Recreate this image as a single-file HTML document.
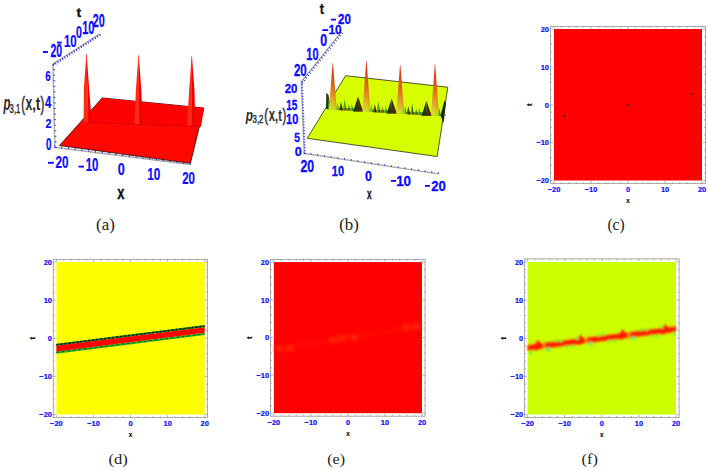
<!DOCTYPE html>
<html><head><meta charset="utf-8">
<style>
html,body{margin:0;padding:0;background:#fff;}
svg{display:block;}
</style></head><body>
<svg width="708" height="470" viewBox="0 0 708 470">
<rect width="708" height="470" fill="#fff"/>
<rect x="554" y="29" width="148.00" height="151.50" fill="#ff0000"/>
<circle cx="564.5" cy="115.8" r="1.05" fill="#3a1a1a"/><circle cx="628.1" cy="105.1" r="1.05" fill="#3a1a1a"/><circle cx="691.6" cy="94.1" r="1.05" fill="#3a1a1a"/>
<rect x="550.4" y="26.4" width="155.10" height="157.00" fill="none" stroke="#a0a0a0" stroke-width="0.9"/>
<path d="M554.00,183.4v-2.4M554.00,26.4v2.4M550.4,180.50h2.4M705.5,180.50h-2.4M561.40,183.4v-1.4M561.40,26.4v1.4M550.4,172.93h1.4M705.5,172.93h-1.4M568.80,183.4v-1.4M568.80,26.4v1.4M550.4,165.35h1.4M705.5,165.35h-1.4M576.20,183.4v-1.4M576.20,26.4v1.4M550.4,157.78h1.4M705.5,157.78h-1.4M583.60,183.4v-1.4M583.60,26.4v1.4M550.4,150.20h1.4M705.5,150.20h-1.4M591.00,183.4v-2.4M591.00,26.4v2.4M550.4,142.62h2.4M705.5,142.62h-2.4M598.40,183.4v-1.4M598.40,26.4v1.4M550.4,135.05h1.4M705.5,135.05h-1.4M605.80,183.4v-1.4M605.80,26.4v1.4M550.4,127.47h1.4M705.5,127.47h-1.4M613.20,183.4v-1.4M613.20,26.4v1.4M550.4,119.90h1.4M705.5,119.90h-1.4M620.60,183.4v-1.4M620.60,26.4v1.4M550.4,112.33h1.4M705.5,112.33h-1.4M628.00,183.4v-2.4M628.00,26.4v2.4M550.4,104.75h2.4M705.5,104.75h-2.4M635.40,183.4v-1.4M635.40,26.4v1.4M550.4,97.17h1.4M705.5,97.17h-1.4M642.80,183.4v-1.4M642.80,26.4v1.4M550.4,89.60h1.4M705.5,89.60h-1.4M650.20,183.4v-1.4M650.20,26.4v1.4M550.4,82.02h1.4M705.5,82.02h-1.4M657.60,183.4v-1.4M657.60,26.4v1.4M550.4,74.45h1.4M705.5,74.45h-1.4M665.00,183.4v-2.4M665.00,26.4v2.4M550.4,66.88h2.4M705.5,66.88h-2.4M672.40,183.4v-1.4M672.40,26.4v1.4M550.4,59.30h1.4M705.5,59.30h-1.4M679.80,183.4v-1.4M679.80,26.4v1.4M550.4,51.72h1.4M705.5,51.72h-1.4M687.20,183.4v-1.4M687.20,26.4v1.4M550.4,44.15h1.4M705.5,44.15h-1.4M694.60,183.4v-1.4M694.60,26.4v1.4M550.4,36.58h1.4M705.5,36.58h-1.4M702.00,183.4v-2.4M702.00,26.4v2.4M550.4,29.00h2.4M705.5,29.00h-2.4" stroke="#808080" stroke-width="0.6" fill="none"/>
<text transform="translate(554.00,191.70) scale(0.930,0.980)" font-size="8.0" font-weight="bold" font-style="normal" text-anchor="middle" fill="#0c0cff" font-family='"Liberation Sans", sans-serif' stroke="#0c0cff" stroke-width="0.2">−20</text>
<text transform="translate(549.00,183.25) scale(0.930,0.980)" font-size="8.0" font-weight="bold" font-style="normal" text-anchor="end" fill="#0c0cff" font-family='"Liberation Sans", sans-serif' stroke="#0c0cff" stroke-width="0.2">−20</text>
<text transform="translate(591.00,191.70) scale(0.930,0.980)" font-size="8.0" font-weight="bold" font-style="normal" text-anchor="middle" fill="#0c0cff" font-family='"Liberation Sans", sans-serif' stroke="#0c0cff" stroke-width="0.2">−10</text>
<text transform="translate(549.00,145.38) scale(0.930,0.980)" font-size="8.0" font-weight="bold" font-style="normal" text-anchor="end" fill="#0c0cff" font-family='"Liberation Sans", sans-serif' stroke="#0c0cff" stroke-width="0.2">−10</text>
<text transform="translate(628.00,191.70) scale(0.930,0.980)" font-size="8.0" font-weight="bold" font-style="normal" text-anchor="middle" fill="#0c0cff" font-family='"Liberation Sans", sans-serif' stroke="#0c0cff" stroke-width="0.2">0</text>
<text transform="translate(549.00,107.50) scale(0.930,0.980)" font-size="8.0" font-weight="bold" font-style="normal" text-anchor="end" fill="#0c0cff" font-family='"Liberation Sans", sans-serif' stroke="#0c0cff" stroke-width="0.2">0</text>
<text transform="translate(665.00,191.70) scale(0.930,0.980)" font-size="8.0" font-weight="bold" font-style="normal" text-anchor="middle" fill="#0c0cff" font-family='"Liberation Sans", sans-serif' stroke="#0c0cff" stroke-width="0.2">10</text>
<text transform="translate(549.00,69.62) scale(0.930,0.980)" font-size="8.0" font-weight="bold" font-style="normal" text-anchor="end" fill="#0c0cff" font-family='"Liberation Sans", sans-serif' stroke="#0c0cff" stroke-width="0.2">10</text>
<text transform="translate(702.00,191.70) scale(0.930,0.980)" font-size="8.0" font-weight="bold" font-style="normal" text-anchor="middle" fill="#0c0cff" font-family='"Liberation Sans", sans-serif' stroke="#0c0cff" stroke-width="0.2">20</text>
<text transform="translate(549.00,31.75) scale(0.930,0.980)" font-size="8.0" font-weight="bold" font-style="normal" text-anchor="end" fill="#0c0cff" font-family='"Liberation Sans", sans-serif' stroke="#0c0cff" stroke-width="0.2">20</text>
<text transform="translate(626.26,202.90) scale(0.314,0.360)" font-size="20.0" font-weight="bold" font-style="normal" fill="#111" font-family='"Liberation Sans", sans-serif'  stroke="#111" stroke-width="0.594">x</text>
<g transform="translate(529.10,104.75) rotate(-90)"><text transform="translate(-1.29,2.53) scale(0.389,0.393)" font-size="20.0" font-weight="bold" font-style="normal" fill="#111" font-family='"Liberation Sans", sans-serif'  stroke="#111" stroke-width="0.511">t</text></g>
<rect x="56.4" y="262.1" width="148.30" height="152.40" fill="#ffff00"/>
<polygon points="56.4,343.70 204.7,325.10 204.7,327.30 56.4,345.90" fill="#1f7a1f"/>
<polygon points="56.4,351.30 204.7,332.70 204.7,335.10 56.4,353.70" fill="#2aac2a"/>
<polygon points="56.4,345.80 204.7,327.20 204.7,332.80 56.4,351.40" fill="#ff0000"/>
<line x1="56.4" y1="344.70000000000005" x2="204.7" y2="326.1" stroke="#08201a" stroke-width="1.5" stroke-dasharray="2.2 1.8"/>
<line x1="56.4" y1="352.40000000000003" x2="204.7" y2="333.8" stroke="#1a5a20" stroke-width="1.0" stroke-dasharray="2.5 3.0"/>
<rect x="53.3" y="259.4" width="154.10" height="158.20" fill="none" stroke="#a0a0a0" stroke-width="0.9"/>
<path d="M56.40,417.6v-2.4M56.40,259.4v2.4M53.3,414.50h2.4M207.4,414.50h-2.4M63.81,417.6v-1.4M63.81,259.4v1.4M53.3,406.88h1.4M207.4,406.88h-1.4M71.23,417.6v-1.4M71.23,259.4v1.4M53.3,399.26h1.4M207.4,399.26h-1.4M78.64,417.6v-1.4M78.64,259.4v1.4M53.3,391.64h1.4M207.4,391.64h-1.4M86.06,417.6v-1.4M86.06,259.4v1.4M53.3,384.02h1.4M207.4,384.02h-1.4M93.47,417.6v-2.4M93.47,259.4v2.4M53.3,376.40h2.4M207.4,376.40h-2.4M100.89,417.6v-1.4M100.89,259.4v1.4M53.3,368.78h1.4M207.4,368.78h-1.4M108.30,417.6v-1.4M108.30,259.4v1.4M53.3,361.16h1.4M207.4,361.16h-1.4M115.72,417.6v-1.4M115.72,259.4v1.4M53.3,353.54h1.4M207.4,353.54h-1.4M123.13,417.6v-1.4M123.13,259.4v1.4M53.3,345.92h1.4M207.4,345.92h-1.4M130.55,417.6v-2.4M130.55,259.4v2.4M53.3,338.30h2.4M207.4,338.30h-2.4M137.97,417.6v-1.4M137.97,259.4v1.4M53.3,330.68h1.4M207.4,330.68h-1.4M145.38,417.6v-1.4M145.38,259.4v1.4M53.3,323.06h1.4M207.4,323.06h-1.4M152.79,417.6v-1.4M152.79,259.4v1.4M53.3,315.44h1.4M207.4,315.44h-1.4M160.21,417.6v-1.4M160.21,259.4v1.4M53.3,307.82h1.4M207.4,307.82h-1.4M167.62,417.6v-2.4M167.62,259.4v2.4M53.3,300.20h2.4M207.4,300.20h-2.4M175.04,417.6v-1.4M175.04,259.4v1.4M53.3,292.58h1.4M207.4,292.58h-1.4M182.45,417.6v-1.4M182.45,259.4v1.4M53.3,284.96h1.4M207.4,284.96h-1.4M189.87,417.6v-1.4M189.87,259.4v1.4M53.3,277.34h1.4M207.4,277.34h-1.4M197.28,417.6v-1.4M197.28,259.4v1.4M53.3,269.72h1.4M207.4,269.72h-1.4M204.70,417.6v-2.4M204.70,259.4v2.4M53.3,262.10h2.4M207.4,262.10h-2.4" stroke="#808080" stroke-width="0.6" fill="none"/>
<text transform="translate(56.40,425.90) scale(0.930,0.980)" font-size="8.0" font-weight="bold" font-style="normal" text-anchor="middle" fill="#0c0cff" font-family='"Liberation Sans", sans-serif' stroke="#0c0cff" stroke-width="0.2">−20</text>
<text transform="translate(51.90,417.25) scale(0.930,0.980)" font-size="8.0" font-weight="bold" font-style="normal" text-anchor="end" fill="#0c0cff" font-family='"Liberation Sans", sans-serif' stroke="#0c0cff" stroke-width="0.2">−20</text>
<text transform="translate(93.47,425.90) scale(0.930,0.980)" font-size="8.0" font-weight="bold" font-style="normal" text-anchor="middle" fill="#0c0cff" font-family='"Liberation Sans", sans-serif' stroke="#0c0cff" stroke-width="0.2">−10</text>
<text transform="translate(51.90,379.15) scale(0.930,0.980)" font-size="8.0" font-weight="bold" font-style="normal" text-anchor="end" fill="#0c0cff" font-family='"Liberation Sans", sans-serif' stroke="#0c0cff" stroke-width="0.2">−10</text>
<text transform="translate(130.55,425.90) scale(0.930,0.980)" font-size="8.0" font-weight="bold" font-style="normal" text-anchor="middle" fill="#0c0cff" font-family='"Liberation Sans", sans-serif' stroke="#0c0cff" stroke-width="0.2">0</text>
<text transform="translate(51.90,341.05) scale(0.930,0.980)" font-size="8.0" font-weight="bold" font-style="normal" text-anchor="end" fill="#0c0cff" font-family='"Liberation Sans", sans-serif' stroke="#0c0cff" stroke-width="0.2">0</text>
<text transform="translate(167.62,425.90) scale(0.930,0.980)" font-size="8.0" font-weight="bold" font-style="normal" text-anchor="middle" fill="#0c0cff" font-family='"Liberation Sans", sans-serif' stroke="#0c0cff" stroke-width="0.2">10</text>
<text transform="translate(51.90,302.95) scale(0.930,0.980)" font-size="8.0" font-weight="bold" font-style="normal" text-anchor="end" fill="#0c0cff" font-family='"Liberation Sans", sans-serif' stroke="#0c0cff" stroke-width="0.2">10</text>
<text transform="translate(204.70,425.90) scale(0.930,0.980)" font-size="8.0" font-weight="bold" font-style="normal" text-anchor="middle" fill="#0c0cff" font-family='"Liberation Sans", sans-serif' stroke="#0c0cff" stroke-width="0.2">20</text>
<text transform="translate(51.90,264.85) scale(0.930,0.980)" font-size="8.0" font-weight="bold" font-style="normal" text-anchor="end" fill="#0c0cff" font-family='"Liberation Sans", sans-serif' stroke="#0c0cff" stroke-width="0.2">20</text>
<text transform="translate(128.81,437.10) scale(0.314,0.360)" font-size="20.0" font-weight="bold" font-style="normal" fill="#111" font-family='"Liberation Sans", sans-serif'  stroke="#111" stroke-width="0.594">x</text>
<g transform="translate(32.00,338.30) rotate(-90)"><text transform="translate(-1.29,2.53) scale(0.389,0.393)" font-size="20.0" font-weight="bold" font-style="normal" fill="#111" font-family='"Liberation Sans", sans-serif'  stroke="#111" stroke-width="0.511">t</text></g>
<rect x="273.9" y="262.1" width="148.10" height="151.10" fill="#ff0000"/>
<defs><filter id="bl" x="-50%" y="-50%" width="200%" height="200%"><feGaussianBlur stdDeviation="2.0"/></filter></defs><polygon points="274,346.50 422,324.00 422,329.00 274,351.50" fill="#ff2a00" opacity="0.22" filter="url(#bl)"/><g filter="url(#bl)"><ellipse cx="278.8" cy="348.7" rx="4.5" ry="2.8" fill="#ff4a10" opacity="0.5"/><ellipse cx="290.1" cy="348.2" rx="4.5" ry="2.8" fill="#ff4a10" opacity="0.5"/><ellipse cx="333" cy="339.7" rx="4.5" ry="2.8" fill="#ff4a10" opacity="0.5"/><ellipse cx="342" cy="338" rx="4.5" ry="2.8" fill="#ff4a10" opacity="0.5"/><ellipse cx="354" cy="337.6" rx="4.5" ry="2.8" fill="#ff4a10" opacity="0.5"/><ellipse cx="406" cy="326.9" rx="4.5" ry="2.8" fill="#ff4a10" opacity="0.5"/><ellipse cx="416.7" cy="326.3" rx="4.5" ry="2.8" fill="#ff4a10" opacity="0.5"/></g>
<rect x="270.5" y="259.4" width="154.60" height="156.80" fill="none" stroke="#a0a0a0" stroke-width="0.9"/>
<path d="M273.90,416.2v-2.4M273.90,259.4v2.4M270.5,413.20h2.4M425.1,413.20h-2.4M281.30,416.2v-1.4M281.30,259.4v1.4M270.5,405.64h1.4M425.1,405.64h-1.4M288.71,416.2v-1.4M288.71,259.4v1.4M270.5,398.09h1.4M425.1,398.09h-1.4M296.12,416.2v-1.4M296.12,259.4v1.4M270.5,390.53h1.4M425.1,390.53h-1.4M303.52,416.2v-1.4M303.52,259.4v1.4M270.5,382.98h1.4M425.1,382.98h-1.4M310.92,416.2v-2.4M310.92,259.4v2.4M270.5,375.43h2.4M425.1,375.43h-2.4M318.33,416.2v-1.4M318.33,259.4v1.4M270.5,367.87h1.4M425.1,367.87h-1.4M325.74,416.2v-1.4M325.74,259.4v1.4M270.5,360.31h1.4M425.1,360.31h-1.4M333.14,416.2v-1.4M333.14,259.4v1.4M270.5,352.76h1.4M425.1,352.76h-1.4M340.54,416.2v-1.4M340.54,259.4v1.4M270.5,345.20h1.4M425.1,345.20h-1.4M347.95,416.2v-2.4M347.95,259.4v2.4M270.5,337.65h2.4M425.1,337.65h-2.4M355.36,416.2v-1.4M355.36,259.4v1.4M270.5,330.10h1.4M425.1,330.10h-1.4M362.76,416.2v-1.4M362.76,259.4v1.4M270.5,322.54h1.4M425.1,322.54h-1.4M370.16,416.2v-1.4M370.16,259.4v1.4M270.5,314.99h1.4M425.1,314.99h-1.4M377.57,416.2v-1.4M377.57,259.4v1.4M270.5,307.43h1.4M425.1,307.43h-1.4M384.98,416.2v-2.4M384.98,259.4v2.4M270.5,299.88h2.4M425.1,299.88h-2.4M392.38,416.2v-1.4M392.38,259.4v1.4M270.5,292.32h1.4M425.1,292.32h-1.4M399.78,416.2v-1.4M399.78,259.4v1.4M270.5,284.76h1.4M425.1,284.76h-1.4M407.19,416.2v-1.4M407.19,259.4v1.4M270.5,277.21h1.4M425.1,277.21h-1.4M414.60,416.2v-1.4M414.60,259.4v1.4M270.5,269.66h1.4M425.1,269.66h-1.4M422.00,416.2v-2.4M422.00,259.4v2.4M270.5,262.10h2.4M425.1,262.10h-2.4" stroke="#808080" stroke-width="0.6" fill="none"/>
<text transform="translate(273.90,424.50) scale(0.930,0.980)" font-size="8.0" font-weight="bold" font-style="normal" text-anchor="middle" fill="#0c0cff" font-family='"Liberation Sans", sans-serif' stroke="#0c0cff" stroke-width="0.2">−20</text>
<text transform="translate(269.10,415.95) scale(0.930,0.980)" font-size="8.0" font-weight="bold" font-style="normal" text-anchor="end" fill="#0c0cff" font-family='"Liberation Sans", sans-serif' stroke="#0c0cff" stroke-width="0.2">−20</text>
<text transform="translate(310.92,424.50) scale(0.930,0.980)" font-size="8.0" font-weight="bold" font-style="normal" text-anchor="middle" fill="#0c0cff" font-family='"Liberation Sans", sans-serif' stroke="#0c0cff" stroke-width="0.2">−10</text>
<text transform="translate(269.10,378.18) scale(0.930,0.980)" font-size="8.0" font-weight="bold" font-style="normal" text-anchor="end" fill="#0c0cff" font-family='"Liberation Sans", sans-serif' stroke="#0c0cff" stroke-width="0.2">−10</text>
<text transform="translate(347.95,424.50) scale(0.930,0.980)" font-size="8.0" font-weight="bold" font-style="normal" text-anchor="middle" fill="#0c0cff" font-family='"Liberation Sans", sans-serif' stroke="#0c0cff" stroke-width="0.2">0</text>
<text transform="translate(269.10,340.40) scale(0.930,0.980)" font-size="8.0" font-weight="bold" font-style="normal" text-anchor="end" fill="#0c0cff" font-family='"Liberation Sans", sans-serif' stroke="#0c0cff" stroke-width="0.2">0</text>
<text transform="translate(384.98,424.50) scale(0.930,0.980)" font-size="8.0" font-weight="bold" font-style="normal" text-anchor="middle" fill="#0c0cff" font-family='"Liberation Sans", sans-serif' stroke="#0c0cff" stroke-width="0.2">10</text>
<text transform="translate(269.10,302.62) scale(0.930,0.980)" font-size="8.0" font-weight="bold" font-style="normal" text-anchor="end" fill="#0c0cff" font-family='"Liberation Sans", sans-serif' stroke="#0c0cff" stroke-width="0.2">10</text>
<text transform="translate(422.00,424.50) scale(0.930,0.980)" font-size="8.0" font-weight="bold" font-style="normal" text-anchor="middle" fill="#0c0cff" font-family='"Liberation Sans", sans-serif' stroke="#0c0cff" stroke-width="0.2">20</text>
<text transform="translate(269.10,264.85) scale(0.930,0.980)" font-size="8.0" font-weight="bold" font-style="normal" text-anchor="end" fill="#0c0cff" font-family='"Liberation Sans", sans-serif' stroke="#0c0cff" stroke-width="0.2">20</text>
<text transform="translate(346.21,435.70) scale(0.314,0.360)" font-size="20.0" font-weight="bold" font-style="normal" fill="#111" font-family='"Liberation Sans", sans-serif'  stroke="#111" stroke-width="0.594">x</text>
<g transform="translate(249.20,337.65) rotate(-90)"><text transform="translate(-1.29,2.53) scale(0.389,0.393)" font-size="20.0" font-weight="bold" font-style="normal" fill="#111" font-family='"Liberation Sans", sans-serif'  stroke="#111" stroke-width="0.511">t</text></g>
<rect x="527.6" y="262" width="148.40" height="152.50" fill="#ccff00"/>
<defs><filter id="bl2" x="-20%" y="-50%" width="140%" height="200%"><feGaussianBlur stdDeviation="0.9"/></filter></defs>
<g filter="url(#bl2)"><polygon points="527.6,344.20 676,325.50 676,332.70 527.6,351.40" fill="#ff8a00" opacity="0.55"/><polygon points="527.6,345.20 543.0,343.26 543.0,348.46 527.6,350.40" fill="#ff1a00"/><polygon points="544.6,343.06 585.0,337.97 585.0,343.17 544.6,348.26" fill="#ff1a00"/><polygon points="586.6,337.77 628.2,332.52 628.2,337.72 586.6,342.97" fill="#ff1a00"/><polygon points="629.8,332.32 676,326.50 676,331.70 629.8,337.52" fill="#ff1a00"/><path d="M534.5,344.9 L538.0,340.0 L541.5,344.0 Z" fill="#ff1a00"/><path d="M534.0,349.0 L536.5,350.7 L540.0,348.2 Z" fill="#ff1a00"/><path d="M576.9,339.6 L580.4,334.6 L583.9,338.7 Z" fill="#ff1a00"/><path d="M576.4,343.7 L578.9,345.3 L582.4,342.9 Z" fill="#ff1a00"/><path d="M619.1,334.3 L622.6,329.3 L626.1,333.4 Z" fill="#ff1a00"/><path d="M618.6,338.3 L621.1,340.0 L624.6,337.6 Z" fill="#ff1a00"/><path d="M661.5,328.9 L665.0,324.0 L668.5,328.0 Z" fill="#ff1a00"/><path d="M661.0,333.0 L663.5,334.7 L667.0,332.2 Z" fill="#ff1a00"/><rect x="543.1" y="342.3" width="1.4" height="7" fill="#ffb000" opacity="0.85"/><rect x="585.5" y="336.9" width="1.4" height="7" fill="#ffb000" opacity="0.85"/><rect x="627.7" y="331.6" width="1.4" height="7" fill="#ffb000" opacity="0.85"/><path d="M528.7,352.5 L530.5,350.7 L532.3,352.5 L530.5,354.3 Z" fill="#48f040"/><path d="M545.7,349.6 L548.2,347.1 L550.7,349.6 L548.2,352.1 Z" fill="#40f088"/><path d="M554.8,340.6 L556.6,338.8 L558.4,340.6 L556.6,342.4 Z" fill="#48f040"/><path d="M559.2,341.0 L561.0,339.2 L562.8,341.0 L561.0,342.8 Z" fill="#48f040"/><path d="M565.0,346.8 L566.8,345.0 L568.6,346.8 L566.8,348.6 Z" fill="#48f040"/><path d="M570.7,346.6 L572.5,344.8 L574.3,346.6 L572.5,348.4 Z" fill="#48f040"/><path d="M575.7,338.4 L577.5,336.6 L579.3,338.4 L577.5,340.2 Z" fill="#48f040"/><path d="M588.0,343.7 L590.5,341.2 L593.0,343.7 L590.5,346.2 Z" fill="#40f088"/><path d="M597.2,335.5 L599.0,333.7 L600.8,335.5 L599.0,337.3 Z" fill="#48f040"/><path d="M601.6,334.3 L603.4,332.5 L605.2,334.3 L603.4,336.1 Z" fill="#48f040"/><path d="M607.8,341.0 L609.6,339.2 L611.4,341.0 L609.6,342.8 Z" fill="#48f040"/><path d="M613.5,341.0 L615.3,339.2 L617.1,341.0 L615.3,342.8 Z" fill="#48f040"/><path d="M630.8,338.2 L633.3,335.7 L635.8,338.2 L633.3,340.7 Z" fill="#40f088"/><path d="M639.4,329.8 L641.2,328.0 L643.0,329.8 L641.2,331.6 Z" fill="#48f040"/><path d="M644.5,329.8 L646.3,328.0 L648.1,329.8 L646.3,331.6 Z" fill="#48f040"/><path d="M650.2,336.0 L652.0,334.2 L653.8,336.0 L652.0,337.8 Z" fill="#48f040"/><path d="M655.8,336.0 L657.6,334.2 L659.4,336.0 L657.6,337.8 Z" fill="#48f040"/><path d="M660.3,327.2 L662.1,325.4 L663.9,327.2 L662.1,329.0 Z" fill="#48f040"/><path d="M672.2,333.2 L674.0,331.4 L675.8,333.2 L674.0,335.0 Z" fill="#48f040"/></g>
<rect x="524.6" y="258.9" width="154.50" height="158.50" fill="none" stroke="#a0a0a0" stroke-width="0.9"/>
<path d="M527.60,417.4v-2.4M527.60,258.9v2.4M524.6,414.50h2.4M679.1,414.50h-2.4M535.02,417.4v-1.4M535.02,258.9v1.4M524.6,406.88h1.4M679.1,406.88h-1.4M542.44,417.4v-1.4M542.44,258.9v1.4M524.6,399.25h1.4M679.1,399.25h-1.4M549.86,417.4v-1.4M549.86,258.9v1.4M524.6,391.62h1.4M679.1,391.62h-1.4M557.28,417.4v-1.4M557.28,258.9v1.4M524.6,384.00h1.4M679.1,384.00h-1.4M564.70,417.4v-2.4M564.70,258.9v2.4M524.6,376.38h2.4M679.1,376.38h-2.4M572.12,417.4v-1.4M572.12,258.9v1.4M524.6,368.75h1.4M679.1,368.75h-1.4M579.54,417.4v-1.4M579.54,258.9v1.4M524.6,361.12h1.4M679.1,361.12h-1.4M586.96,417.4v-1.4M586.96,258.9v1.4M524.6,353.50h1.4M679.1,353.50h-1.4M594.38,417.4v-1.4M594.38,258.9v1.4M524.6,345.88h1.4M679.1,345.88h-1.4M601.80,417.4v-2.4M601.80,258.9v2.4M524.6,338.25h2.4M679.1,338.25h-2.4M609.22,417.4v-1.4M609.22,258.9v1.4M524.6,330.62h1.4M679.1,330.62h-1.4M616.64,417.4v-1.4M616.64,258.9v1.4M524.6,323.00h1.4M679.1,323.00h-1.4M624.06,417.4v-1.4M624.06,258.9v1.4M524.6,315.38h1.4M679.1,315.38h-1.4M631.48,417.4v-1.4M631.48,258.9v1.4M524.6,307.75h1.4M679.1,307.75h-1.4M638.90,417.4v-2.4M638.90,258.9v2.4M524.6,300.12h2.4M679.1,300.12h-2.4M646.32,417.4v-1.4M646.32,258.9v1.4M524.6,292.50h1.4M679.1,292.50h-1.4M653.74,417.4v-1.4M653.74,258.9v1.4M524.6,284.88h1.4M679.1,284.88h-1.4M661.16,417.4v-1.4M661.16,258.9v1.4M524.6,277.25h1.4M679.1,277.25h-1.4M668.58,417.4v-1.4M668.58,258.9v1.4M524.6,269.62h1.4M679.1,269.62h-1.4M676.00,417.4v-2.4M676.00,258.9v2.4M524.6,262.00h2.4M679.1,262.00h-2.4" stroke="#808080" stroke-width="0.6" fill="none"/>
<text transform="translate(527.60,425.70) scale(0.930,0.980)" font-size="8.0" font-weight="bold" font-style="normal" text-anchor="middle" fill="#0c0cff" font-family='"Liberation Sans", sans-serif' stroke="#0c0cff" stroke-width="0.2">−20</text>
<text transform="translate(523.20,417.25) scale(0.930,0.980)" font-size="8.0" font-weight="bold" font-style="normal" text-anchor="end" fill="#0c0cff" font-family='"Liberation Sans", sans-serif' stroke="#0c0cff" stroke-width="0.2">−20</text>
<text transform="translate(564.70,425.70) scale(0.930,0.980)" font-size="8.0" font-weight="bold" font-style="normal" text-anchor="middle" fill="#0c0cff" font-family='"Liberation Sans", sans-serif' stroke="#0c0cff" stroke-width="0.2">−10</text>
<text transform="translate(523.20,379.12) scale(0.930,0.980)" font-size="8.0" font-weight="bold" font-style="normal" text-anchor="end" fill="#0c0cff" font-family='"Liberation Sans", sans-serif' stroke="#0c0cff" stroke-width="0.2">−10</text>
<text transform="translate(601.80,425.70) scale(0.930,0.980)" font-size="8.0" font-weight="bold" font-style="normal" text-anchor="middle" fill="#0c0cff" font-family='"Liberation Sans", sans-serif' stroke="#0c0cff" stroke-width="0.2">0</text>
<text transform="translate(523.20,341.00) scale(0.930,0.980)" font-size="8.0" font-weight="bold" font-style="normal" text-anchor="end" fill="#0c0cff" font-family='"Liberation Sans", sans-serif' stroke="#0c0cff" stroke-width="0.2">0</text>
<text transform="translate(638.90,425.70) scale(0.930,0.980)" font-size="8.0" font-weight="bold" font-style="normal" text-anchor="middle" fill="#0c0cff" font-family='"Liberation Sans", sans-serif' stroke="#0c0cff" stroke-width="0.2">10</text>
<text transform="translate(523.20,302.88) scale(0.930,0.980)" font-size="8.0" font-weight="bold" font-style="normal" text-anchor="end" fill="#0c0cff" font-family='"Liberation Sans", sans-serif' stroke="#0c0cff" stroke-width="0.2">10</text>
<text transform="translate(676.00,425.70) scale(0.930,0.980)" font-size="8.0" font-weight="bold" font-style="normal" text-anchor="middle" fill="#0c0cff" font-family='"Liberation Sans", sans-serif' stroke="#0c0cff" stroke-width="0.2">20</text>
<text transform="translate(523.20,264.75) scale(0.930,0.980)" font-size="8.0" font-weight="bold" font-style="normal" text-anchor="end" fill="#0c0cff" font-family='"Liberation Sans", sans-serif' stroke="#0c0cff" stroke-width="0.2">20</text>
<text transform="translate(600.06,436.90) scale(0.314,0.360)" font-size="20.0" font-weight="bold" font-style="normal" fill="#111" font-family='"Liberation Sans", sans-serif'  stroke="#111" stroke-width="0.594">x</text>
<g transform="translate(503.30,338.25) rotate(-90)"><text transform="translate(-1.29,2.53) scale(0.389,0.393)" font-size="20.0" font-weight="bold" font-style="normal" fill="#111" font-family='"Liberation Sans", sans-serif'  stroke="#111" stroke-width="0.511">t</text></g>
<path d="M53,64 L54.8,147.5 L190.5,164.5 M53,64 L99.6,34" stroke="#9a9a9a" stroke-width="1.4" fill="none"/>
<path d="M53,64 L54.8,147.5 L190.5,164.5 M53,64 L99.6,34" stroke="#f0f0f0" stroke-width="0.5" stroke-dasharray="1.2 1.2" fill="none"/>
<path d="M53.00,64.00l1.80,0.00M53.12,69.57l1.80,0.00M53.24,75.13l1.80,0.00M53.36,80.70l1.80,0.00M53.48,86.27l1.80,0.00M53.60,91.83l1.80,0.00M53.72,97.40l1.80,0.00M53.84,102.97l1.80,0.00M53.96,108.53l1.80,0.00M54.08,114.10l1.80,0.00M54.20,119.67l1.80,0.00M54.32,125.23l1.80,0.00M54.44,130.80l1.80,0.00M54.56,136.37l1.80,0.00M54.68,141.93l1.80,0.00M54.80,147.50l1.80,0.00" stroke="#0c0cff" stroke-width="0.8" fill="none"/>
<path d="M54.80,147.50l0.00,-2.00M61.58,148.35l0.00,-2.00M68.37,149.20l0.00,-2.00M75.16,150.05l0.00,-2.00M81.94,150.90l0.00,-2.00M88.72,151.75l0.00,-2.00M95.51,152.60l0.00,-2.00M102.29,153.45l0.00,-2.00M109.08,154.30l0.00,-2.00M115.86,155.15l0.00,-2.00M122.65,156.00l0.00,-2.00M129.44,156.85l0.00,-2.00M136.22,157.70l0.00,-2.00M143.00,158.55l0.00,-2.00M149.79,159.40l0.00,-2.00M156.57,160.25l0.00,-2.00M163.36,161.10l0.00,-2.00M170.14,161.95l0.00,-2.00M176.93,162.80l0.00,-2.00M183.71,163.65l0.00,-2.00M190.50,164.50l0.00,-2.00" stroke="#0c0cff" stroke-width="0.8" fill="none"/>
<path d="M53.00,64.00l0.66,2.09M55.33,62.50l0.66,2.09M57.66,61.00l0.66,2.09M59.99,59.50l0.66,2.09M62.32,58.00l0.66,2.09M64.65,56.50l0.66,2.09M66.98,55.00l0.66,2.09M69.31,53.50l0.66,2.09M71.64,52.00l0.66,2.09M73.97,50.50l0.66,2.09M76.30,49.00l0.66,2.09M78.63,47.50l0.66,2.09M80.96,46.00l0.66,2.09M83.29,44.50l0.66,2.09M85.62,43.00l0.66,2.09M87.95,41.50l0.66,2.09M90.28,40.00l0.66,2.09M92.61,38.50l0.66,2.09M94.94,37.00l0.66,2.09M97.27,35.50l0.66,2.09M99.60,34.00l0.66,2.09" stroke="#0c0cff" stroke-width="0.9" fill="none"/>
<polygon points="59.5,145.5 102.2,97.9 203.9,108.0 190.4,163.3" fill="#ff0800" stroke="#2a0505" stroke-width="0.8" stroke-linejoin="round"/>
<polygon points="84,122.4 102.2,97.9 203.9,108.0 201.1,126.5" fill="#fb0300"/>
<path d="M84,122.4 L201.1,126.5" stroke="#b00000" stroke-width="0.8" opacity="0.55"/>
<path d="M86.30,54.3 L86.70,54.3 L89.12,88.35 L91.8,122.4 L88.30,122.4 Z" fill="#f00000"/><path d="M86.30,54.3 L86.70,54.3 L88.30,122.4 L83.6,122.4 L83.88,88.35 Z" fill="#ff2a14"/>
<path d="M138.40,55.5 L138.80,55.5 L141.29,89.75 L142.8,124.0 L139.20,124.0 Z" fill="#f00000"/><path d="M138.40,55.5 L138.80,55.5 L139.20,124.0 L134.4,124.0 L135.91,89.75 Z" fill="#ff2a14"/>
<path d="M191.60,56.5 L192.00,56.5 L194.49,91.05 L195.4,125.6 L191.80,125.6 Z" fill="#f00000"/><path d="M191.60,56.5 L192.00,56.5 L191.80,125.6 L187.0,125.6 L189.11,91.05 Z" fill="#ff2a14"/>
<text transform="translate(45.14,81.16) scale(0.486,0.720)" font-size="20.0" font-weight="bold" font-style="normal" fill="#0c0cff" font-family='"Liberation Sans", sans-serif'  stroke="#0c0cff" stroke-width="0.332">6</text>
<text transform="translate(44.93,107.60) scale(0.569,0.807)" font-size="20.0" font-weight="bold" font-style="normal" fill="#0c0cff" font-family='"Liberation Sans", sans-serif'  stroke="#0c0cff" stroke-width="0.291">4</text>
<text transform="translate(45.43,127.90) scale(0.540,0.652)" font-size="20.0" font-weight="bold" font-style="normal" fill="#0c0cff" font-family='"Liberation Sans", sans-serif'  stroke="#0c0cff" stroke-width="0.336">2</text>
<text transform="translate(46.11,150.24) scale(0.494,0.819)" font-size="20.0" font-weight="bold" font-style="normal" fill="#0c0cff" font-family='"Liberation Sans", sans-serif'  stroke="#0c0cff" stroke-width="0.305">0</text>
<text transform="translate(50.44,57.12) scale(0.526,0.918)" font-size="20.0" font-weight="bold" font-style="normal" fill="#0c0cff" font-family='"Liberation Sans", sans-serif'  stroke="#0c0cff" stroke-width="0.277">20</text>
<text transform="translate(63.88,47.33) scale(0.575,0.869)" font-size="20.0" font-weight="bold" font-style="normal" fill="#0c0cff" font-family='"Liberation Sans", sans-serif'  stroke="#0c0cff" stroke-width="0.277">10</text>
<text transform="translate(75.88,37.54) scale(0.536,0.798)" font-size="20.0" font-weight="bold" font-style="normal" fill="#0c0cff" font-family='"Liberation Sans", sans-serif'  stroke="#0c0cff" stroke-width="0.300">0</text>
<text transform="translate(82.20,33.52) scale(0.555,0.946)" font-size="20.0" font-weight="bold" font-style="normal" fill="#0c0cff" font-family='"Liberation Sans", sans-serif'  stroke="#0c0cff" stroke-width="0.266">10</text>
<text transform="translate(92.63,27.32) scale(0.540,0.946)" font-size="20.0" font-weight="bold" font-style="normal" fill="#0c0cff" font-family='"Liberation Sans", sans-serif'  stroke="#0c0cff" stroke-width="0.269">20</text>
<rect x="42.9" y="51.05" width="5.10" height="1.9" fill="#0c0cff"/>
<rect x="57" y="41.65" width="4.70" height="1.9" fill="#0c0cff"/>
<text transform="translate(55.40,167.63) scale(0.584,0.869)" font-size="20.0" font-weight="bold" font-style="normal" fill="#0c0cff" font-family='"Liberation Sans", sans-serif'  stroke="#0c0cff" stroke-width="0.275">20</text>
<text transform="translate(85.78,171.42) scale(0.570,0.897)" font-size="20.0" font-weight="bold" font-style="normal" fill="#0c0cff" font-family='"Liberation Sans", sans-serif'  stroke="#0c0cff" stroke-width="0.273">10</text>
<text transform="translate(117.80,175.44) scale(0.631,0.833)" font-size="20.0" font-weight="bold" font-style="normal" fill="#0c0cff" font-family='"Liberation Sans", sans-serif'  stroke="#0c0cff" stroke-width="0.273">0</text>
<text transform="translate(147.26,180.44) scale(0.590,0.840)" font-size="20.0" font-weight="bold" font-style="normal" fill="#0c0cff" font-family='"Liberation Sans", sans-serif'  stroke="#0c0cff" stroke-width="0.280">10</text>
<text transform="translate(182.20,184.34) scale(0.574,0.833)" font-size="20.0" font-weight="bold" font-style="normal" fill="#0c0cff" font-family='"Liberation Sans", sans-serif'  stroke="#0c0cff" stroke-width="0.284">20</text>
<rect x="48" y="161.85" width="5.90" height="1.9" fill="#0c0cff"/>
<rect x="78.5" y="165.65" width="5.50" height="1.9" fill="#0c0cff"/>
<text transform="translate(117.21,199.40) scale(0.646,0.937)" font-size="20.0" font-weight="bold" font-style="normal" fill="#111" font-family='"Liberation Sans", sans-serif'  stroke="#111" stroke-width="0.379">x</text>
<text transform="translate(76.53,16.99) scale(0.697,0.620)" font-size="20.0" font-weight="bold" font-style="normal" fill="#111" font-family='"Liberation Sans", sans-serif'  stroke="#111" stroke-width="0.456">t</text>
<text transform="translate(3.55,110.41) scale(0.566,0.986)" font-size="20.0" font-weight="bold" font-style="italic" fill="#2a2a2a" font-family='"Liberation Sans", sans-serif' >p</text>
<text transform="translate(9.61,113.08) scale(0.384,0.614)" font-size="20.0" font-weight="normal" font-style="normal" fill="#2a2a2a" font-family='"Liberation Sans", sans-serif'  stroke="#2a2a2a" stroke-width="0.701">3,1</text>
<text transform="translate(21.30,110.68) scale(0.566,0.971)" font-size="20.0" font-weight="normal" font-style="normal" fill="#2a2a2a" font-family='"Liberation Sans", sans-serif'  stroke="#2a2a2a" stroke-width="0.455">(</text>
<text transform="translate(25.62,110.40) scale(0.609,0.975)" font-size="20.0" font-weight="bold" font-style="normal" fill="#2a2a2a" font-family='"Liberation Sans", sans-serif' >x</text>
<text transform="translate(32.00,110.15) scale(0.734,0.856)" font-size="20.0" font-weight="bold" font-style="normal" fill="#2a2a2a" font-family='"Liberation Sans", sans-serif' >,</text>
<text transform="translate(35.63,110.24) scale(0.681,0.885)" font-size="20.0" font-weight="bold" font-style="normal" fill="#2a2a2a" font-family='"Liberation Sans", sans-serif' >t</text>
<text transform="translate(40.43,110.68) scale(0.566,0.971)" font-size="20.0" font-weight="normal" font-style="normal" fill="#2a2a2a" font-family='"Liberation Sans", sans-serif'  stroke="#2a2a2a" stroke-width="0.455">)</text>
<path d="M301.3,82 L304.2,153.5 L438.5,173.9 M301.3,82 L341.1,32.4" stroke="#9a9a9a" stroke-width="1.3" fill="none"/>
<path d="M301.3,82 L304.2,153.5 L438.5,173.9 M301.3,82 L341.1,32.4" stroke="#f0f0f0" stroke-width="0.45" stroke-dasharray="1.2 1.2" fill="none"/>
<path d="M301.30,82.00l1.60,0.00M301.42,84.86l1.60,0.00M301.53,87.72l1.60,0.00M301.65,90.58l1.60,0.00M301.76,93.44l1.60,0.00M301.88,96.30l1.60,0.00M302.00,99.16l1.60,0.00M302.11,102.02l1.60,0.00M302.23,104.88l1.60,0.00M302.34,107.74l1.60,0.00M302.46,110.60l1.60,0.00M302.58,113.46l1.60,0.00M302.69,116.32l1.60,0.00M302.81,119.18l1.60,0.00M302.92,122.04l1.60,0.00M303.04,124.90l1.60,0.00M303.16,127.76l1.60,0.00M303.27,130.62l1.60,0.00M303.39,133.48l1.60,0.00M303.50,136.34l1.60,0.00M303.62,139.20l1.60,0.00M303.74,142.06l1.60,0.00M303.85,144.92l1.60,0.00M303.97,147.78l1.60,0.00M304.08,150.64l1.60,0.00M304.20,153.50l1.60,0.00" stroke="#0c0cff" stroke-width="0.8" fill="none"/>
<path d="M304.20,153.50l0.00,-1.60M310.91,154.52l0.00,-1.60M317.63,155.54l0.00,-1.60M324.34,156.56l0.00,-1.60M331.06,157.58l0.00,-1.60M337.77,158.60l0.00,-1.60M344.49,159.62l0.00,-1.60M351.20,160.64l0.00,-1.60M357.92,161.66l0.00,-1.60M364.63,162.68l0.00,-1.60M371.35,163.70l0.00,-1.60M378.06,164.72l0.00,-1.60M384.78,165.74l0.00,-1.60M391.50,166.76l0.00,-1.60M398.21,167.78l0.00,-1.60M404.93,168.80l0.00,-1.60M411.64,169.82l0.00,-1.60M418.36,170.84l0.00,-1.60M425.07,171.86l0.00,-1.60M431.78,172.88l0.00,-1.60M438.50,173.90l0.00,-1.60" stroke="#0c0cff" stroke-width="0.8" fill="none"/>
<path d="M301.30,82.00l1.72,1.39M303.29,79.52l1.72,1.39M305.28,77.04l1.72,1.39M307.27,74.56l1.72,1.39M309.26,72.08l1.72,1.39M311.25,69.60l1.72,1.39M313.24,67.12l1.72,1.39M315.23,64.64l1.72,1.39M317.22,62.16l1.72,1.39M319.21,59.68l1.72,1.39M321.20,57.20l1.72,1.39M323.19,54.72l1.72,1.39M325.18,52.24l1.72,1.39M327.17,49.76l1.72,1.39M329.16,47.28l1.72,1.39M331.15,44.80l1.72,1.39M333.14,42.32l1.72,1.39M335.13,39.84l1.72,1.39M337.12,37.36l1.72,1.39M339.11,34.88l1.72,1.39M341.10,32.40l1.72,1.39" stroke="#0c0cff" stroke-width="0.9" fill="none"/>
<polygon points="307.2,138.3 345.6,75.7 447.8,87.2 437.2,156.5" fill="#d8ff00" stroke="#2a2a0a" stroke-width="0.8"/>
<defs><filter id="bb" x="-20%" y="-50%" width="140%" height="200%"><feGaussianBlur stdDeviation="0.45"/></filter></defs>
<g filter="url(#bb)"><path d="M327,109 L446,116.2 L446,114.2 L327,107 Z" fill="#6a5010" opacity="0.4"/>
<path d="M326,109 L326.3,92.8 L328.5,95 L330.8,109.2 Z" fill="#1f3a10"/>
<path d="M328,109.1 L328.5,99 L330.8,109.2 Z" fill="#2fa020"/>
<path d="M340.3,110.4 L363.1,111.7 L363.1,108.2 L340.3,107.9 Z" fill="#5a4010" opacity="0.55"/>
<path d="M336.20,109.70 L337.60,101.70 L337.60,109.70 Z" fill="#50e040"/><path d="M337.60,101.70 L339.00,109.70 L337.60,109.70 Z" fill="#30a020"/>
<path d="M339.20,110.20 L341.00,102.00 L341.00,110.20 Z" fill="#5a3a10"/><path d="M341.00,102.00 L342.80,110.20 L341.00,110.20 Z" fill="#3a2208"/>
<path d="M342.90,110.12 L344.60,99.12 L344.60,110.12 Z" fill="#30c030"/><path d="M344.60,99.12 L346.30,110.12 L344.60,110.12 Z" fill="#1a6a18"/>
<path d="M347.40,110.37 L348.80,104.37 L348.80,110.37 Z" fill="#6a8a20"/><path d="M348.80,104.37 L350.20,110.37 L348.80,110.37 Z" fill="#4a5a10"/>
<path d="M350.30,110.55 L351.80,103.55 L351.80,110.55 Z" fill="#40e040"/><path d="M351.80,103.55 L353.30,110.55 L351.80,110.55 Z" fill="#2a8a20"/>
<path d="M353.60,111.34 L356.60,103.34 L356.60,111.34 Z" fill="#6a3a0a"/><path d="M356.60,103.34 L359.60,111.34 L356.60,111.34 Z" fill="#4a2a08"/>
<path d="M353.10,111.53 L358.10,96.53 L358.10,111.53 Z" fill="#1f3a10"/><path d="M358.10,96.53 L363.10,111.53 L358.10,111.53 Z" fill="#4a2a0a"/>
<path d="M374.1,112.4 L396.7,113.7 L396.7,110.2 L374.1,109.9 Z" fill="#5a4010" opacity="0.55"/>
<path d="M370.00,111.72 L371.40,103.72 L371.40,111.72 Z" fill="#50e040"/><path d="M371.40,103.72 L372.80,111.72 L371.40,111.72 Z" fill="#30a020"/>
<path d="M373.00,112.23 L374.80,104.03 L374.80,112.23 Z" fill="#5a3a10"/><path d="M374.80,104.03 L376.60,112.23 L374.80,112.23 Z" fill="#3a2208"/>
<path d="M376.70,112.14 L378.40,101.14 L378.40,112.14 Z" fill="#30c030"/><path d="M378.40,101.14 L380.10,112.14 L378.40,112.14 Z" fill="#1a6a18"/>
<path d="M381.20,112.40 L382.60,106.40 L382.60,112.40 Z" fill="#6a8a20"/><path d="M382.60,106.40 L384.00,112.40 L382.60,112.40 Z" fill="#4a5a10"/>
<path d="M384.10,112.58 L385.60,105.58 L385.60,112.58 Z" fill="#40e040"/><path d="M385.60,105.58 L387.10,112.58 L385.60,112.58 Z" fill="#2a8a20"/>
<path d="M387.20,113.35 L390.20,105.35 L390.20,113.35 Z" fill="#6a3a0a"/><path d="M390.20,105.35 L393.20,113.35 L390.20,113.35 Z" fill="#4a2a08"/>
<path d="M386.70,113.54 L391.70,98.54 L391.70,113.54 Z" fill="#1f3a10"/><path d="M391.70,98.54 L396.70,113.54 L391.70,113.54 Z" fill="#4a2a0a"/>
<path d="M407.7,114.4 L431.5,115.8 L431.5,112.3 L407.7,111.9 Z" fill="#5a4010" opacity="0.55"/>
<path d="M403.60,113.74 L405.00,105.74 L405.00,113.74 Z" fill="#50e040"/><path d="M405.00,105.74 L406.40,113.74 L405.00,113.74 Z" fill="#30a020"/>
<path d="M406.60,114.24 L408.40,106.04 L408.40,114.24 Z" fill="#5a3a10"/><path d="M408.40,106.04 L410.20,114.24 L408.40,114.24 Z" fill="#3a2208"/>
<path d="M410.30,114.16 L412.00,103.16 L412.00,114.16 Z" fill="#30c030"/><path d="M412.00,103.16 L413.70,114.16 L412.00,114.16 Z" fill="#1a6a18"/>
<path d="M414.80,114.41 L416.20,108.41 L416.20,114.41 Z" fill="#6a8a20"/><path d="M416.20,108.41 L417.60,114.41 L416.20,114.41 Z" fill="#4a5a10"/>
<path d="M417.70,114.59 L419.20,107.59 L419.20,114.59 Z" fill="#40e040"/><path d="M419.20,107.59 L420.70,114.59 L419.20,114.59 Z" fill="#2a8a20"/>
<path d="M422.00,115.44 L425.00,107.44 L425.00,115.44 Z" fill="#6a3a0a"/><path d="M425.00,107.44 L428.00,115.44 L425.00,115.44 Z" fill="#4a2a08"/>
<path d="M421.50,115.63 L426.50,100.63 L426.50,115.63 Z" fill="#1f3a10"/><path d="M426.50,100.63 L431.50,115.63 L426.50,115.63 Z" fill="#4a2a0a"/>
<path d="M437.60,115.79 L439.20,107.79 L439.20,115.79 Z" fill="#40e040"/><path d="M439.20,107.79 L440.80,115.79 L439.20,115.79 Z" fill="#2a8a20"/>
<path d="M440.5,115.5 L444.5,100.5 L446,103 L443.6,123 Z" fill="#1a2a08"/></g>
<defs><linearGradient id="spk" x1="0" y1="0" x2="0" y2="1"><stop offset="0" stop-color="#d42010"/><stop offset="0.45" stop-color="#e05a10"/><stop offset="0.8" stop-color="#e0a820"/><stop offset="1" stop-color="#d0e020"/></linearGradient><linearGradient id="spk2" x1="0" y1="0" x2="1" y2="0"><stop offset="0" stop-color="#fff" stop-opacity="0.15"/><stop offset="0.5" stop-color="#fff" stop-opacity="0"/><stop offset="1" stop-color="#000" stop-opacity="0.18"/></linearGradient></defs>
<path d="M332.65000000000003,62.9 L332.95,62.9 L336.8,109.5 L328.8,109.5 Z" fill="url(#spk)"/><path d="M332.65000000000003,62.9 L332.95,62.9 L336.8,109.5 L328.8,109.5 Z" fill="url(#spk2)"/>
<path d="M366.25,60.7 L366.54999999999995,60.7 L370.4,111.5 L362.4,111.5 Z" fill="url(#spk)"/><path d="M366.25,60.7 L366.54999999999995,60.7 L370.4,111.5 L362.4,111.5 Z" fill="url(#spk2)"/>
<path d="M400.05,65.0 L400.34999999999997,65.0 L404.2,113.0 L396.2,113.0 Z" fill="url(#spk)"/><path d="M400.05,65.0 L400.34999999999997,65.0 L404.2,113.0 L396.2,113.0 Z" fill="url(#spk2)"/>
<path d="M434.85,64.0 L435.15,64.0 L439.0,115.0 L431.0,115.0 Z" fill="url(#spk)"/><path d="M434.85,64.0 L435.15,64.0 L439.0,115.0 L431.0,115.0 Z" fill="url(#spk2)"/>
<text transform="translate(284.70,93.47) scale(0.574,0.657)" font-size="20.0" font-weight="bold" font-style="normal" fill="#0c0cff" font-family='"Liberation Sans", sans-serif'  stroke="#0c0cff" stroke-width="0.488">20</text>
<text transform="translate(286.17,109.66) scale(0.499,0.731)" font-size="20.0" font-weight="bold" font-style="normal" fill="#0c0cff" font-family='"Liberation Sans", sans-serif'  stroke="#0c0cff" stroke-width="0.488">15</text>
<text transform="translate(286.11,124.16) scale(0.550,0.720)" font-size="20.0" font-weight="bold" font-style="normal" fill="#0c0cff" font-family='"Liberation Sans", sans-serif'  stroke="#0c0cff" stroke-width="0.472">10</text>
<text transform="translate(294.18,142.07) scale(0.513,0.674)" font-size="20.0" font-weight="bold" font-style="normal" fill="#0c0cff" font-family='"Liberation Sans", sans-serif'  stroke="#0c0cff" stroke-width="0.506">5</text>
<text transform="translate(294.80,155.67) scale(0.631,0.657)" font-size="20.0" font-weight="bold" font-style="normal" fill="#0c0cff" font-family='"Liberation Sans", sans-serif'  stroke="#0c0cff" stroke-width="0.466">0</text>
<text transform="translate(293.90,75.64) scale(0.574,0.840)" font-size="20.0" font-weight="bold" font-style="normal" fill="#0c0cff" font-family='"Liberation Sans", sans-serif'  stroke="#0c0cff" stroke-width="0.424">20</text>
<text transform="translate(306.31,60.35) scale(0.550,0.784)" font-size="20.0" font-weight="bold" font-style="normal" fill="#0c0cff" font-family='"Liberation Sans", sans-serif'  stroke="#0c0cff" stroke-width="0.450">10</text>
<text transform="translate(320.21,45.85) scale(0.620,0.784)" font-size="20.0" font-weight="bold" font-style="normal" fill="#0c0cff" font-family='"Liberation Sans", sans-serif'  stroke="#0c0cff" stroke-width="0.427">0</text>
<text transform="translate(328.46,33.97) scale(0.590,0.664)" font-size="20.0" font-weight="bold" font-style="normal" fill="#0c0cff" font-family='"Liberation Sans", sans-serif'  stroke="#0c0cff" stroke-width="0.478">10</text>
<text transform="translate(338.10,23.66) scale(0.579,0.720)" font-size="20.0" font-weight="bold" font-style="normal" fill="#0c0cff" font-family='"Liberation Sans", sans-serif'  stroke="#0c0cff" stroke-width="0.462">20</text>
<rect x="322.4" y="29.20" width="5.90" height="1.8" fill="#0c0cff"/>
<rect x="330.9" y="18.70" width="5.10" height="1.8" fill="#0c0cff"/>
<text transform="translate(300.48,171.55) scale(0.613,0.784)" font-size="20.0" font-weight="bold" font-style="normal" fill="#0c0cff" font-family='"Liberation Sans", sans-serif'  stroke="#0c0cff" stroke-width="0.430">20</text>
<text transform="translate(331.81,176.26) scale(0.550,0.713)" font-size="20.0" font-weight="bold" font-style="normal" fill="#0c0cff" font-family='"Liberation Sans", sans-serif'  stroke="#0c0cff" stroke-width="0.475">10</text>
<text transform="translate(365.11,180.56) scale(0.620,0.720)" font-size="20.0" font-weight="bold" font-style="normal" fill="#0c0cff" font-family='"Liberation Sans", sans-serif'  stroke="#0c0cff" stroke-width="0.448">0</text>
<text transform="translate(396.16,186.45) scale(0.669,0.777)" font-size="20.0" font-weight="bold" font-style="normal" fill="#0c0cff" font-family='"Liberation Sans", sans-serif'  stroke="#0c0cff" stroke-width="0.415">10</text>
<text transform="translate(431.25,190.66) scale(0.656,0.713)" font-size="20.0" font-weight="bold" font-style="normal" fill="#0c0cff" font-family='"Liberation Sans", sans-serif'  stroke="#0c0cff" stroke-width="0.438">20</text>
<rect x="391" y="180.00" width="5.10" height="1.8" fill="#0c0cff"/>
<rect x="424.9" y="185.00" width="5.10" height="1.8" fill="#0c0cff"/>
<text transform="translate(366.94,199.30) scale(0.415,0.719)" font-size="20.0" font-weight="bold" font-style="normal" fill="#111" font-family='"Liberation Sans", sans-serif'  stroke="#111" stroke-width="0.441">x</text>
<text transform="translate(319.65,14.36) scale(0.632,0.771)" font-size="20.0" font-weight="bold" font-style="normal" fill="#111" font-family='"Liberation Sans", sans-serif'  stroke="#111" stroke-width="0.356">t</text>
<text transform="translate(245.86,121.04) scale(0.591,0.858)" font-size="20.0" font-weight="bold" font-style="italic" fill="#2a2a2a" font-family='"Liberation Sans", sans-serif' >p</text>
<text transform="translate(252.60,123.29) scale(0.388,0.544)" font-size="20.0" font-weight="normal" font-style="normal" fill="#2a2a2a" font-family='"Liberation Sans", sans-serif'  stroke="#2a2a2a" stroke-width="0.751">3,2</text>
<text transform="translate(264.27,121.24) scale(0.585,0.907)" font-size="20.0" font-weight="normal" font-style="normal" fill="#2a2a2a" font-family='"Liberation Sans", sans-serif'  stroke="#2a2a2a" stroke-width="0.469">(</text>
<text transform="translate(268.72,121.40) scale(0.563,0.927)" font-size="20.0" font-weight="bold" font-style="normal" fill="#2a2a2a" font-family='"Liberation Sans", sans-serif' >x</text>
<text transform="translate(274.75,121.16) scale(0.629,0.691)" font-size="20.0" font-weight="bold" font-style="normal" fill="#2a2a2a" font-family='"Liberation Sans", sans-serif' >,</text>
<text transform="translate(278.27,121.25) scale(0.535,0.847)" font-size="20.0" font-weight="bold" font-style="normal" fill="#2a2a2a" font-family='"Liberation Sans", sans-serif' >t</text>
<text transform="translate(282.53,121.24) scale(0.566,0.907)" font-size="20.0" font-weight="normal" font-style="normal" fill="#2a2a2a" font-family='"Liberation Sans", sans-serif'  stroke="#2a2a2a" stroke-width="0.475">)</text>
<text transform="translate(96.06,230.46) scale(0.846,0.808)" font-size="20.0" font-weight="normal" font-style="normal" fill="#222" font-family='"Liberation Serif", serif' >(a)</text>
<text transform="translate(339.16,230.46) scale(0.844,0.808)" font-size="20.0" font-weight="normal" font-style="normal" fill="#222" font-family='"Liberation Serif", serif' >(b)</text>
<text transform="translate(607.42,230.46) scale(0.778,0.808)" font-size="20.0" font-weight="normal" font-style="normal" fill="#222" font-family='"Liberation Serif", serif' >(c)</text>
<text transform="translate(108.57,463.69) scale(0.826,0.778)" font-size="20.0" font-weight="normal" font-style="normal" fill="#222" font-family='"Liberation Serif", serif' >(d)</text>
<text transform="translate(327.19,463.69) scale(0.802,0.778)" font-size="20.0" font-weight="normal" font-style="normal" fill="#222" font-family='"Liberation Serif", serif' >(e)</text>
<text transform="translate(581.58,463.73) scale(0.818,0.769)" font-size="20.0" font-weight="normal" font-style="normal" fill="#222" font-family='"Liberation Serif", serif' >(f)</text>
</svg>
</body></html>
